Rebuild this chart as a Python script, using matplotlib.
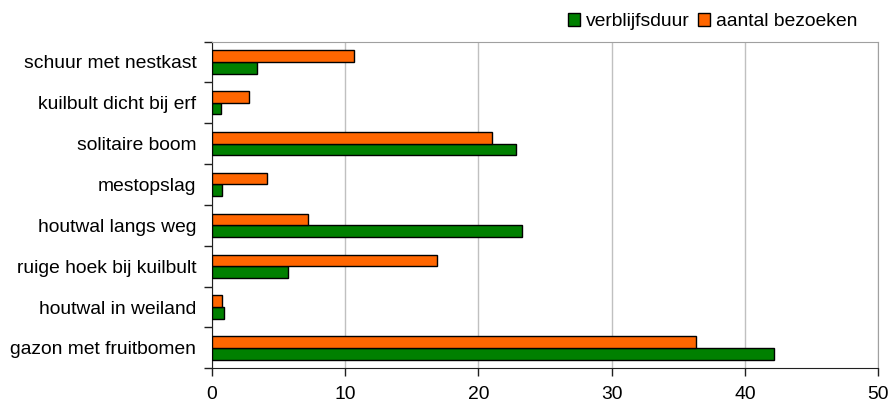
import matplotlib.pyplot as plt
import numpy as np

# Data (bottom to top as drawn)
locaties = ["gazon met fruitbomen", "houtwal in weiland", "ruige hoek bij kuilbult",
            "houtwal langs weg", "mestopslag", "solitaire boom",
            "kuilbult dicht bij erf", "schuur met nestkast"]
verblijfsduur = [42.2, 0.9, 5.75, 23.3, 0.8, 22.85, 0.67, 3.37]
aantal_bezoeken = [36.35, 0.77, 16.9, 7.2, 4.15, 21.05, 2.82, 10.67]

plt.rcParams['font.family'] = ['Liberation Sans', 'DejaVu Sans']
plt.rcParams['font.size'] = 13.9

fig = plt.figure(figsize=(8.89, 4.03), dpi=100)
ax = fig.add_axes([0.238, 0.086, 0.750, 0.811])

y = np.arange(len(locaties))
h = 0.285
ax.barh(y - h / 2, verblijfsduur, height=h, color='#008000', edgecolor='black',
        linewidth=1.0, label='verblijfsduur', zorder=3)
ax.barh(y + h / 2, aantal_bezoeken, height=h, color='#FF6600', edgecolor='black',
        linewidth=1.0, label='aantal bezoeken', zorder=3)

ax.set_xlim(0, 50)
ax.set_ylim(-0.5, len(locaties) - 0.5)
ax.set_xticks(range(0, 51, 10))
ax.set_yticks(y)
ax.set_yticklabels(locaties)
ax.set_yticks(np.arange(-0.5, len(locaties), 1), minor=True)
ax.tick_params(axis='y', which='major', length=0, pad=11)
ax.tick_params(axis='y', which='minor', length=6, width=1, color='#202020')
ax.tick_params(axis='x', length=6, width=1, color='#202020', pad=7)

ax.grid(axis='x', color='#c0c0c0', linewidth=1, zorder=0)
for s in ['top', 'right']:
    ax.spines[s].set_color('#a0a0a0')
for s in ['left', 'bottom']:
    ax.spines[s].set_color('#202020')

fig.legend(loc='center right', bbox_to_anchor=(0.964, 0.946), ncol=2, frameon=False,
           handlelength=0.6, handleheight=0.6, handletextpad=0.3, columnspacing=0.45,
           borderaxespad=0, borderpad=0)

fig.savefig("out.png", dpi=100)
